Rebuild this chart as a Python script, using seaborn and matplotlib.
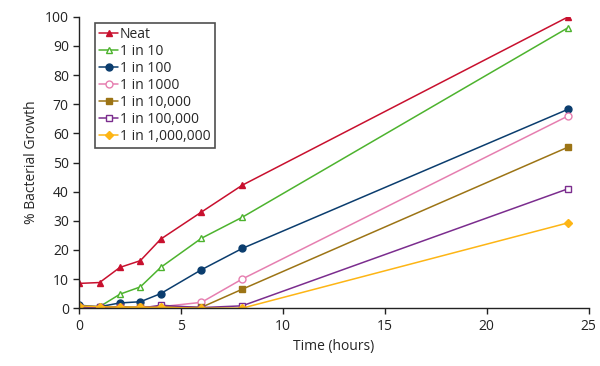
import pandas as pd
import matplotlib
matplotlib.use("Agg")
import matplotlib.pyplot as plt
import seaborn as sns

# Time points (hours)
hours = [0, 1, 2, 3, 4, 6, 8, 24]

# % bacterial growth per dilution
neat = [8.5, 8.8, 14.0, 16.3, 23.7, 33.0, 42.2, 100.0]
d10 = [0.5, 0.5, 4.8, 7.3, 14.0, 24.0, 31.2, 96.3]
d100 = [1.0, 0.5, 1.8, 2.2, 5.0, 13.2, 20.5, 68.3]
d1000 = [0.0, 0.0, 0.0, 0.5, 0.5, 2.0, 10.0, 66.0]
d1e4 = [0.5, 0.5, 0.5, 0.3, 0.5, 0.3, 6.5, 55.3]
d1e5 = [0.5, 0.3, 0.3, 0.0, 1.0, 0.2, 0.8, 41.0]
d1e6 = [0.8, 0.5, 0.3, 0.3, 0.3, 0.0, 0.0, 29.3]

labels = ["Neat", "1 in 10", "1 in 100", "1 in 1000",
          "1 in 10,000", "1 in 100,000", "1 in 1,000,000"]
series = [neat, d10, d100, d1000, d1e4, d1e5, d1e6]

colors = ["#C8102E", "#4DB32E", "#0B3D6E", "#E67FB0",
          "#9C7415", "#7B2D8E", "#FDB515"]
markers = ["^", "^", "o", "o", "s", "s", "D"]
filled = [True, False, True, False, True, False, True]

rows = []
for lab, vals in zip(labels, series):
    for h, v in zip(hours, vals):
        rows.append({"Time": h, "Growth": v, "Dilution": lab})
df = pd.DataFrame(rows)

sns.set_style("ticks")
plt.rcParams['font.family'] = ['Open Sans', 'DejaVu Sans']

fig = plt.figure(figsize=(6, 3.66), dpi=100)
ax = fig.add_axes([0.132, 0.158, 0.849, 0.796])

for lab, c, m, f in zip(labels, colors, markers, filled):
    sub = df[df["Dilution"] == lab]
    sns.lineplot(data=sub, x="Time", y="Growth", ax=ax, color=c,
                 marker=m, markersize=5 if m != "D" else 4.5,
                 markerfacecolor=c if f else "white",
                 markeredgecolor=c, markeredgewidth=1.0,
                 linewidth=1.1, label=lab)

ax.set_xlim(0, 25)
ax.set_ylim(0, 100)
ax.set_xticks([0, 5, 10, 15, 20, 25])
ax.set_yticks(range(0, 101, 10))
ax.set_xlabel("Time (hours)", fontsize=10)
ax.set_ylabel("% Bacterial Growth", fontsize=10)
ax.tick_params(labelsize=10, length=4, width=1, colors="#222222")
sns.despine(ax=ax)
for s in ["left", "bottom"]:
    ax.spines[s].set_color("#222222")
    ax.spines[s].set_linewidth(1)

leg = ax.legend(loc="upper left", bbox_to_anchor=(0.025, 0.99), frameon=True,
                fancybox=False, edgecolor="#222222", fontsize=10,
                handlelength=1.4, handletextpad=0.1, borderpad=0.3,
                labelspacing=0.15, borderaxespad=0.2)
leg.get_frame().set_linewidth(1.2)

fig.savefig("out.png", dpi=100)
